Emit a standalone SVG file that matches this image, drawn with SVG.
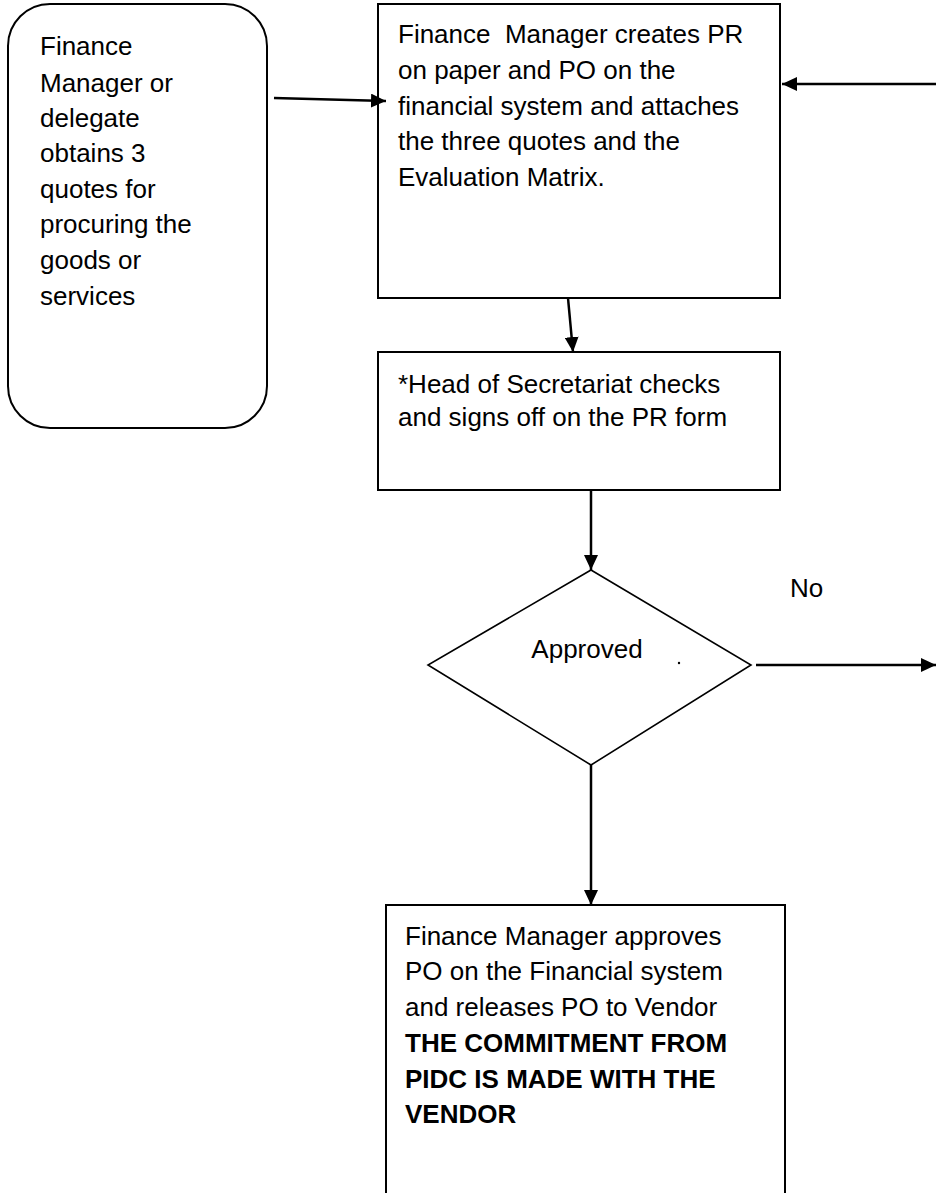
<svg xmlns="http://www.w3.org/2000/svg" width="936" height="1193" viewBox="0 0 936 1193">
<style>
  .box { fill: #ffffff; stroke: #000000; stroke-width: 2; }
  .dia { fill: #ffffff; stroke: #000000; stroke-width: 1.6; }
  .t { font-family: "Liberation Sans", Arial, sans-serif; font-size: 26px; fill: #000000; }
  .b { font-weight: bold; }
  .conn { fill: none; stroke: #000000; stroke-width: 2.5; }
</style>
<defs>
  <marker id="arr" markerUnits="userSpaceOnUse" markerWidth="16" markerHeight="14" refX="15" refY="7" orient="auto">
    <path d="M0,0 L15,7 L0,14 Z" fill="#000000"/>
  </marker>
</defs>
<rect width="936" height="1193" fill="#ffffff"/>

<g id="node-obtain-quotes">
  <rect class="box" x="8" y="4" width="259" height="424" rx="42" ry="42"/>
  <text class="t" x="40" y="55">Finance</text>
  <text class="t" x="40" y="92">Manager or</text>
  <text class="t" x="40" y="127">delegate</text>
  <text class="t" x="40" y="162">obtains 3</text>
  <text class="t" x="40" y="198">quotes for</text>
  <text class="t" x="40" y="233">procuring the</text>
  <text class="t" x="40" y="269">goods or</text>
  <text class="t" x="40" y="305">services</text>
</g>

<g id="node-create-pr">
  <rect class="box" x="378" y="4" width="402" height="294"/>
  <text class="t" x="398" y="43" xml:space="preserve">Finance  Manager creates PR</text>
  <text class="t" x="398" y="79">on paper and PO on the</text>
  <text class="t" x="398" y="115">financial system and attaches</text>
  <text class="t" x="398" y="150">the three quotes and the</text>
  <text class="t" x="398" y="186">Evaluation Matrix.</text>
</g>

<g id="node-head-signoff">
  <rect class="box" x="378" y="352" width="402" height="138"/>
  <text class="t" x="398" y="393">*Head of Secretariat checks</text>
  <text class="t" x="398" y="426">and signs off on the PR form</text>
</g>

<g id="node-approved">
  <polygon class="dia" points="591,570 751,665 591,765 428,665"/>
  <text class="t" x="587" y="658" text-anchor="middle">Approved</text>
  <circle cx="679" cy="663" r="1.2" fill="#000000"/>
</g>

<g id="node-release-po">
  <rect class="box" x="386" y="905" width="399" height="300"/>
  <text class="t" x="405" y="945">Finance Manager approves</text>
  <text class="t" x="405" y="980">PO on the Financial system</text>
  <text class="t" x="405" y="1016">and releases PO to Vendor</text>
  <text class="t b" x="405" y="1052">THE COMMITMENT FROM</text>
  <text class="t b" x="405" y="1088">PIDC IS MADE WITH THE</text>
  <text class="t b" x="405" y="1123">VENDOR</text>
</g>

<g id="connectors">
  <line class="conn" x1="274" y1="98" x2="386" y2="101" marker-end="url(#arr)"/>
  <line class="conn" x1="936" y1="84" x2="782" y2="84" marker-end="url(#arr)"/>
  <line class="conn" x1="568" y1="298" x2="573" y2="352" marker-end="url(#arr)"/>
  <line class="conn" x1="591" y1="490" x2="591" y2="570" marker-end="url(#arr)"/>
  <line class="conn" x1="756" y1="665" x2="936" y2="665" marker-end="url(#arr)"/>
  <line class="conn" x1="591" y1="765" x2="591" y2="905" marker-end="url(#arr)"/>
  <text class="t" x="790" y="597">No</text>
</g>
</svg>
